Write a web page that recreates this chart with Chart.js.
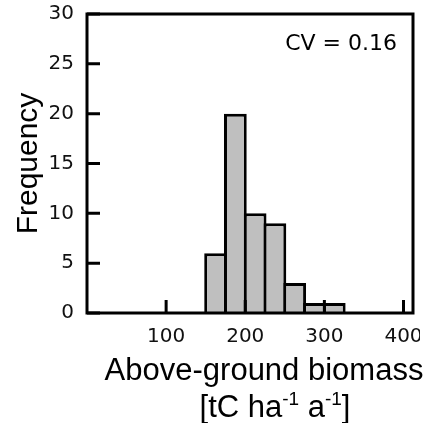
<!DOCTYPE html>
<html><head><meta charset="utf-8">
<script src="https://cdn.jsdelivr.net/npm/chart.js@4.4.0/dist/chart.umd.min.js"></script>
<style>html,body{margin:0;padding:0;background:#fff;overflow:hidden}#wrap{width:431px;height:423px;position:relative}</style>
</head><body><div id="wrap"><canvas id="c" width="431" height="423"></canvas></div>
<script>
// ---- data ----
const binStarts = [150, 175, 200, 225, 250, 275, 300];
const binWidth = 25;
const counts = [6, 20, 10, 9, 3, 1, 1];
const xTicks = [100, 200, 300, 400];
const yTicks = [0, 5, 10, 15, 20, 25, 30];
const xRange = [0, 412];
const yRange = [0, 30];
const cvText = 'CV = 0.16';
const yTitle = 'Frequency';
const xTitleLine1 = 'Above-ground biomass';
const xTitleLine2 = [['[tC ha', false], ['-1', true], [' a', false], ['-1', true], [']', false]];

const points = binStarts.map((s, i) => ({ x: s + binWidth / 2, y: counts[i] }));

const framePlugin = {
  id: 'frame',
  afterDatasetsDraw(chart) {
    const { ctx, chartArea: a, scales: { x, y } } = chart;
    ctx.save();
    ctx.strokeStyle = '#000';
    ctx.lineWidth = 3;
    ctx.beginPath();
    xTicks.forEach(v => { const px = x.getPixelForValue(v); ctx.moveTo(px, a.bottom); ctx.lineTo(px, a.bottom - 13); });
    yTicks.forEach(v => { const py = y.getPixelForValue(v); ctx.moveTo(a.left, py); ctx.lineTo(a.left + 13, py); });
    ctx.stroke();
    ctx.strokeRect(a.left, a.top, a.right - a.left, a.bottom - a.top);
    ctx.restore();
  },
  afterDraw(chart) {
    const { ctx, chartArea: a } = chart;
    ctx.save();
    // crop of the last tick label as in the reference
    ctx.fillStyle = '#fff';
    ctx.fillRect(420, a.bottom + 6, chart.width - 420, 36);
    // CV annotation
    ctx.fillStyle = '#000';
    ctx.font = '22px "DejaVu Sans"';
    ctx.textAlign = 'right';
    ctx.textBaseline = 'alphabetic';
    ctx.fillText(cvText, a.right - 16, a.top + 36);
    // x title
    const cx = (a.left + a.right) / 2;
    ctx.textAlign = 'center';
    ctx.font = '31px "Liberation Sans"';
    ctx.fillText(xTitleLine1, cx + 14, a.bottom + 67);
    // second line with superscripts
    const mainFont = '31px "Liberation Sans"', supFont = '19px "Liberation Sans"';
    let total = 0;
    xTitleLine2.forEach(([t, sup]) => { ctx.font = sup ? supFont : mainFont; total += ctx.measureText(t).width; });
    let xx = cx + 25 - total / 2;
    ctx.textAlign = 'left';
    const base = a.bottom + 104;
    xTitleLine2.forEach(([t, sup]) => {
      ctx.font = sup ? supFont : mainFont;
      ctx.fillText(t, xx, sup ? base - 12 : base);
      xx += ctx.measureText(t).width;
    });
    ctx.restore();
  }
};

new Chart(document.getElementById('c'), {
  type: 'bar',
  data: {
    datasets: [{
      data: points,
      backgroundColor: '#bfbfbf',
      borderColor: '#000',
      borderWidth: 3,
      borderSkipped: 'bottom',
      barPercentage: 1.15,
      categoryPercentage: 1,
      grouped: false
    }]
  },
  options: {
    responsive: false,
    animation: false,
    devicePixelRatio: 1,
    layout: { padding: { top: 14, right: 18, left: 0, bottom: 0 } },
    plugins: { legend: { display: false }, tooltip: { enabled: false } },
    scales: {
      x: {
        type: 'linear', min: xRange[0], max: xRange[1], offset: false,
        afterBuildTicks: s => { s.ticks = xTicks.map(v => ({ value: v })); },
        afterFit: s => { s.height = 110; s.paddingLeft = 0; s.paddingRight = 0; },
        grid: { display: false, drawTicks: false },
        border: { display: false },
        ticks: { font: { family: 'DejaVu Sans', size: 20 }, color: '#111', padding: 12, maxRotation: 0, autoSkip: false }
      },
      y: {
        min: yRange[0], max: yRange[1],
        afterBuildTicks: s => { s.ticks = yTicks.map(v => ({ value: v })); },
        afterFit: s => { s.width = 87; s.paddingTop = 0; s.paddingBottom = 0; },
        grid: { display: false, drawTicks: false },
        border: { display: false },
        ticks: { font: { family: 'DejaVu Sans', size: 20 }, color: '#111', padding: 13, autoSkip: false },
        title: { display: true, text: yTitle, color: '#000', font: { family: 'Liberation Sans', size: 30 }, padding: { top: 11, bottom: 0 } }
      }
    }
  },
  plugins: [framePlugin]
});
</script>
</body></html>
